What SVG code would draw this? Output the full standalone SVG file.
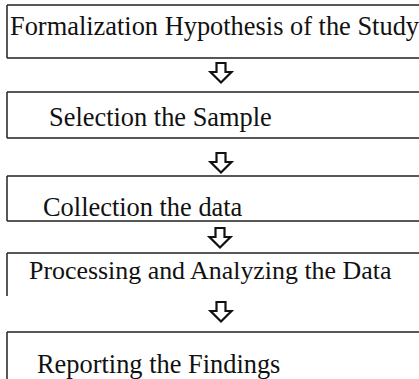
<svg xmlns="http://www.w3.org/2000/svg" xmlns:xlink="http://www.w3.org/1999/xlink" width="419" height="379" viewBox="0 0 419 379">
<style>
.ln{stroke:#222;stroke-width:1.5;fill:none}
.tx{font-family:"Liberation Serif","Times New Roman",serif;font-size:26.4px;fill:#111}
.ar{fill:#fff;stroke:#111;stroke-width:2.2;stroke-linejoin:miter}
</style>
<defs>
<path id="arrow" class="ar" d="M-4.5,0 H4.5 V9 H10.5 L0,19.5 L-10.5,9 H-4.5 Z"/>
</defs>
<rect width="419" height="379" fill="#fff"/>
<g id="node1">
<path class="ln" d="M7,5 H419 M7,5 V58 M7,58 H419"/>
<text class="tx" x="10" y="35">Formalization Hypothesis of the Study</text>
</g>
<g id="node2">
<path class="ln" d="M7,92 H419 M7,92 V138 M7,138 H419"/>
<text class="tx" x="49" y="126">Selection the Sample</text>
</g>
<g id="node3">
<path class="ln" d="M7,176 H419 M7,176 V221 M7,221 H419"/>
<text class="tx" x="43" y="216">Collection the data</text>
</g>
<g id="node4">
<path class="ln" d="M7,253 H419 M7,253 V296"/>
<text class="tx" x="29" y="279" style="font-size:25.9px">Processing and Analyzing the Data</text>
</g>
<g id="node5">
<path class="ln" d="M7,332 H419 M7,332 V379"/>
<text class="tx" x="37" y="373">Reporting the Findings</text>
</g>
<g id="connectors">
<use xlink:href="#arrow" x="221" y="63"/>
<use xlink:href="#arrow" x="221" y="153"/>
<use xlink:href="#arrow" x="220" y="228"/>
<use xlink:href="#arrow" x="221" y="302"/>
</g>
</svg>
